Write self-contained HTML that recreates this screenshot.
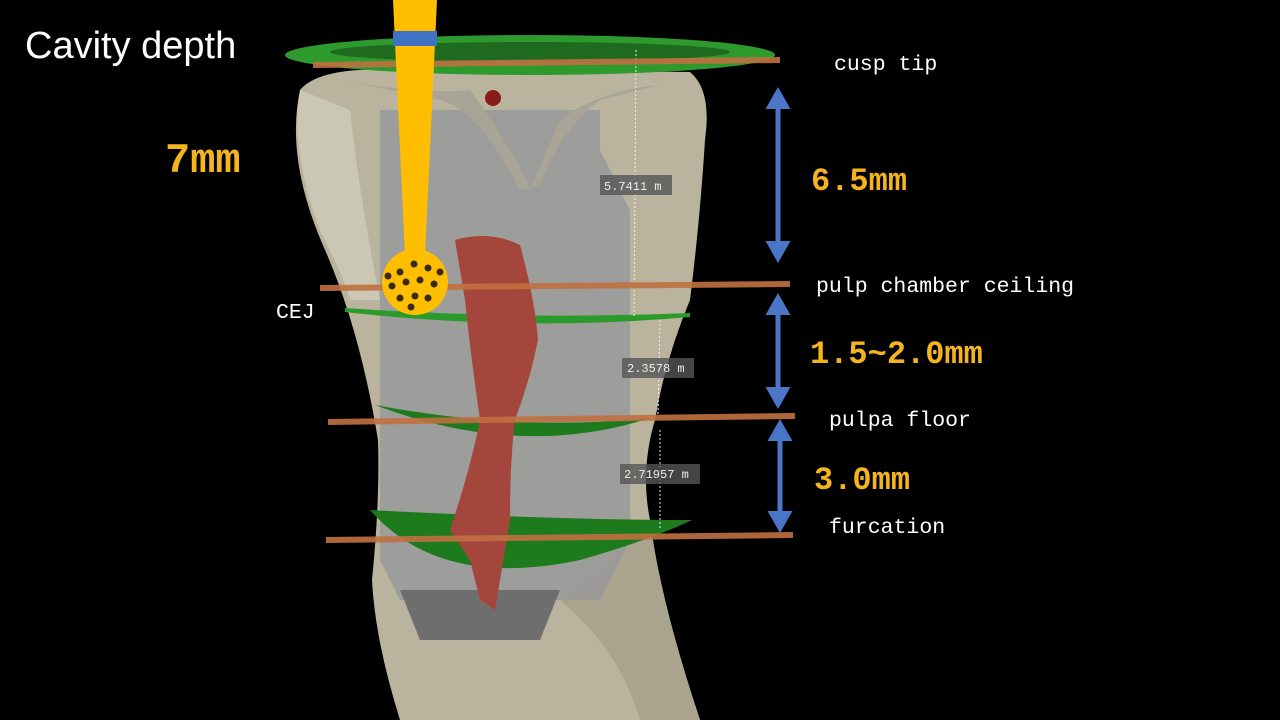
<!DOCTYPE html>
<html><head><meta charset="utf-8"><style>
html,body{margin:0;padding:0;background:#000;width:1280px;height:720px;overflow:hidden}
svg{display:block}
.m{font-family:"Liberation Mono",monospace}
</style></head><body>
<svg width="1280" height="720" viewBox="0 0 1280 720" xmlns="http://www.w3.org/2000/svg">
<defs>
<marker id="ah" markerWidth="4.4" markerHeight="5" refX="2.2" refY="2.5" orient="auto-start-reverse" markerUnits="strokeWidth">
<path d="M0,0 L4.4,2.5 L0,5 z" fill="#4a76c8"/></marker>
</defs>
<rect width="1280" height="720" fill="#000"/>
<!-- tooth -->
<path d="M300,90 Q320,66 400,70 L690,72 Q712,90 705,140 Q700,220 690,300 Q665,360 655,420 Q640,470 650,520 Q660,600 700,720 L400,720 Q375,640 372,580 Q380,500 378,440 Q360,330 325,250 Q285,160 300,90 Z" fill="#bab49e"/>
<path d="M300,90 Q290,150 320,230 Q345,280 350,300 L380,300 Q360,200 350,110 Z" fill="#d0ccba" opacity="0.8"/>
<path d="M560,600 Q620,650 640,720 L700,720 Q660,600 650,520 Z" fill="#aaa48e"/>
<!-- gray cut -->
<path d="M380,110 L600,110 L600,150 L630,210 L630,540 L600,600 L400,600 L380,560 Z" fill="#9a9a9a" opacity="0.9"/>
<path d="M400,590 L560,590 L540,640 L420,640 Z" fill="#6e6e6e"/>
<!-- crown top -->
<path d="M340,80 Q420,95 470,90 Q520,160 530,190 L560,120 Q600,90 660,85 L600,100 Q560,130 540,185 L520,190 Q480,110 440,100 Z" fill="#a8a496"/>
<!-- green discs -->
<ellipse cx="530" cy="55" rx="245" ry="20" fill="#2e9a2e"/>
<ellipse cx="530" cy="52" rx="200" ry="10" fill="#1e6a1e"/>
<path d="M345,310 Q520,330 690,315 Q520,322 345,310 Z" fill="#2a9a2a" stroke="#2a9a2a" stroke-width="4"/>
<path d="M375,405 Q520,460 650,418 Q520,432 375,405 Z" fill="#1d7a1d"/>
<path d="M370,510 Q440,590 580,560 Q650,540 692,520 Q560,520 370,510 Z" fill="#1d7a1d"/>
<!-- pulp -->
<path d="M455,240 Q490,230 520,245 Q535,300 538,340 Q530,380 515,420 Q510,460 510,520 L495,610 L480,600 L470,560 L450,530 Q470,470 480,420 Q470,350 465,300 Z" fill="#a5463d"/>
<circle cx="493" cy="98" r="8" fill="#8b1a1a"/>
<!-- measurement dashed lines -->
<line x1="636" y1="50" x2="634" y2="318" stroke="#eee" stroke-width="1" stroke-dasharray="2,2"/>
<line x1="660" y1="320" x2="658" y2="415" stroke="#eee" stroke-width="1" stroke-dasharray="2,2"/>
<line x1="660" y1="430" x2="660" y2="528" stroke="#eee" stroke-width="1" stroke-dasharray="2,2"/>
<rect x="600" y="175" width="72" height="20" fill="#555" opacity="0.8"/>
<text x="604" y="190" class="m" font-size="12" fill="#eee">5.7411 m</text>
<rect x="622" y="358" width="72" height="20" fill="#555" opacity="0.8"/>
<text x="627" y="372" class="m" font-size="12" fill="#eee">2.3578 m</text>
<rect x="620" y="464" width="80" height="20" fill="#555" opacity="0.8"/>
<text x="624" y="478" class="m" font-size="12" fill="#eee">2.71957 m</text>
<!-- orange lines -->
<g stroke="#c07040" stroke-width="6" opacity="0.9">
<line x1="313" y1="65" x2="780" y2="60"/>
<line x1="320" y1="288" x2="790" y2="284"/>
<line x1="328" y1="422" x2="795" y2="416"/>
<line x1="326" y1="540" x2="793" y2="535"/>
</g>
<!-- bur -->
<path d="M393,0 L437,0 L425,255 L405,255 Z" fill="#ffbf00"/>
<rect x="393" y="31" width="44" height="15" fill="#3f72c4"/>
<circle cx="415" cy="282" r="33" fill="#ffbf00"/>
<g fill="#3a2a10">
<circle cx="400" cy="272" r="3.5"/><circle cx="414" cy="264" r="3.5"/><circle cx="428" cy="268" r="3.5"/>
<circle cx="392" cy="286" r="3.5"/><circle cx="406" cy="282" r="3.5"/><circle cx="420" cy="280" r="3.5"/><circle cx="434" cy="284" r="3.5"/>
<circle cx="400" cy="298" r="3.5"/><circle cx="415" cy="296" r="3.5"/><circle cx="428" cy="298" r="3.5"/><circle cx="411" cy="307" r="3.5"/>
<circle cx="440" cy="272" r="3.5"/><circle cx="388" cy="276" r="3.5"/>
</g>
<!-- arrows -->
<g stroke="#4a76c8" stroke-width="5" fill="none">
<line x1="778" y1="98" x2="778" y2="252" marker-start="url(#ah)" marker-end="url(#ah)"/>
<line x1="778" y1="304" x2="778" y2="398" marker-start="url(#ah)" marker-end="url(#ah)"/>
<line x1="780" y1="430" x2="780" y2="522" marker-start="url(#ah)" marker-end="url(#ah)"/>
</g>
<!-- text -->
<text x="25" y="58" font-family="Liberation Sans, sans-serif" font-size="38" fill="#fff">Cavity depth</text>
<text x="165" y="172" class="m" font-size="42" font-weight="bold" fill="#f5b41e">7mm</text>
<g class="m" font-size="21.5" fill="#fff">
<text x="834" y="70">cusp tip</text>
<text x="816" y="292">pulp chamber ceiling</text>
<text x="829" y="426">pulpa floor</text>
<text x="829" y="533">furcation</text>
<text x="276" y="318">CEJ</text>
</g>
<g class="m" font-size="32" font-weight="bold" fill="#f5b41e">
<text x="811" y="190">6.5mm</text>
<text x="810" y="363">1.5~2.0mm</text>
<text x="814" y="489">3.0mm</text>
</g>
</svg>
</body></html>
